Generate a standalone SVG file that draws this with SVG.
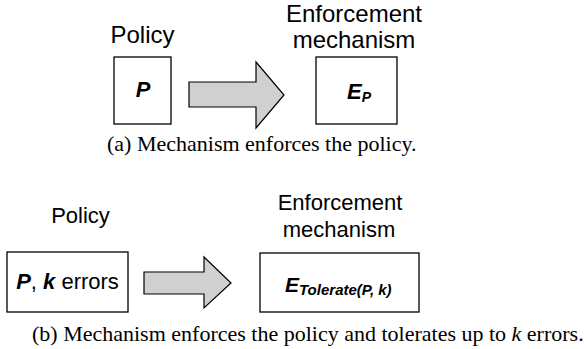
<svg xmlns="http://www.w3.org/2000/svg" width="588" height="349" viewBox="0 0 588 349">
<style>
.box{fill:#fff;stroke:#000;stroke-width:1.3}
.arr{fill:#d0d0d0;stroke:#000;stroke-width:1.2;stroke-linejoin:miter}
.lbl{font-family:"Liberation Sans",Arial,sans-serif;fill:#000;text-anchor:middle}
.bi{font-family:"Liberation Sans",Arial,sans-serif;font-weight:bold;font-style:italic;fill:#000}
.cap{font-family:"Liberation Serif","Times New Roman",serif;font-size:22px;fill:#000}
</style>
<rect width="588" height="349" fill="#fff"/>
<g id="policy-a">
<text class="lbl" x="142.5" y="43" font-size="24">Policy</text>
<rect class="box" x="114" y="57" width="57" height="67"/>
<text class="bi" x="143" y="97" font-size="22" text-anchor="middle">P</text>
</g>
<g id="mech-a">
<text class="lbl" x="354" y="22" font-size="24">Enforcement</text>
<text class="lbl" x="354" y="48" font-size="24">mechanism</text>
<rect class="box" x="316" y="57" width="81" height="67"/>
<text class="bi" x="347" y="99" font-size="22">E<tspan font-size="14" dy="3">P</tspan></text>
</g>
<g id="policy-b">
<text class="lbl" x="80.5" y="223" font-size="22">Policy</text>
<rect class="box" x="7" y="252" width="121" height="60"/>
<text class="lbl" x="67.5" y="289" font-size="22"><tspan font-weight="bold" font-style="italic">P</tspan>, <tspan font-weight="bold" font-style="italic">k</tspan> errors</text>
</g>
<g id="mech-b">
<text class="lbl" x="340" y="210" font-size="22">Enforcement</text>
<text class="lbl" x="339" y="237" font-size="22">mechanism</text>
<rect class="box" x="260" y="253" width="159" height="59"/>
<text class="bi" x="285" y="292" font-size="21">E<tspan font-size="15" dy="2.5">Tolerate(P, k)</tspan></text>
</g>
<g id="connectors">
<polygon class="arr" points="189,82 256,82 256,62 284,95 256,128 256,107 189,107"/>
<polygon class="arr" points="144,272 204,272 204,257 231,283 204,308 204,294 144,294"/>
</g>
<text class="cap" x="107" y="151">(a) Mechanism enforces the policy.</text>
<text class="cap" x="32" y="341">(b) Mechanism enforces the policy and tolerates up to <tspan font-style="italic">k</tspan> errors.</text>
</svg>
